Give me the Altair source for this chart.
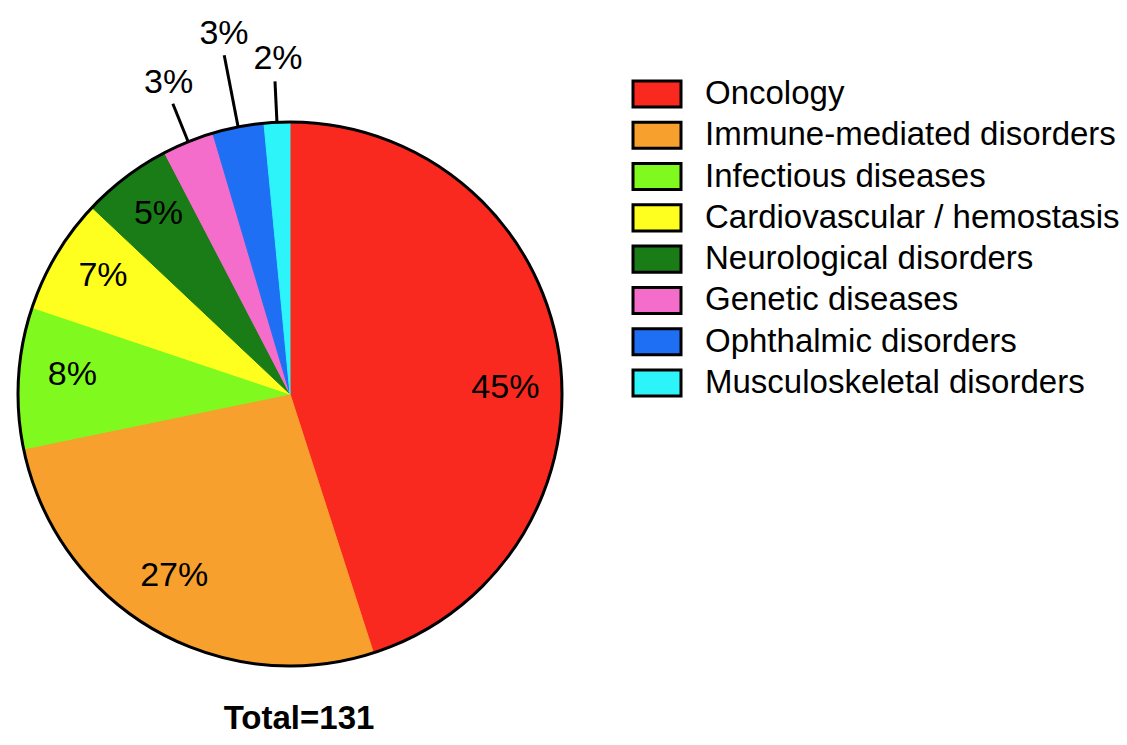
import math
import altair as alt
import pandas as pd

categories = [
    "Oncology",
    "Immune-mediated disorders",
    "Infectious diseases",
    "Cardiovascular / hemostasis",
    "Neurological disorders",
    "Genetic diseases",
    "Ophthalmic disorders",
    "Musculoskeletal disorders",
]
counts = [59, 35, 11, 9, 7, 4, 4, 2]
colors = ["#F9291F", "#F7A02D", "#80F91E", "#FFFF1F", "#197C17", "#F56DCB", "#1F6FF4", "#2CF4F8"]

df = pd.DataFrame({"category": categories, "count": counts, "idx": list(range(len(categories)))})

CX, CY, R = 282, 386, 272
FONT = "Liberation Sans"
BOX = "M-1.6,-0.87L1.6,-0.87L1.6,0.87L-1.6,0.87Z"

base = alt.Chart(df)

color_scale = alt.Scale(domain=categories, range=colors)

pie = base.mark_arc(radius=R, strokeWidth=1).encode(
    theta=alt.Theta("count:Q", stack=True),
    color=alt.Color("category:N", scale=color_scale, legend=None),
    stroke=alt.Stroke("category:N", scale=color_scale, legend=None),
    order=alt.Order("idx:Q"),
    x=alt.value(CX),
    y=alt.value(CY),
)

border = alt.Chart(pd.DataFrame({"v": [1]})).mark_arc(
    radius=R, theta=0, theta2=2 * math.pi, filled=False, stroke="black", strokeWidth=3
).encode(x=alt.value(CX), y=alt.value(CY))

geo = base.transform_window(
    cum="sum(count)", sort=[alt.SortField("idx")], frame=[None, 0]
).transform_joinaggregate(
    total="sum(count)"
).transform_calculate(
    mid="2*PI*(datum.cum - datum.count/2)/datum.total",
    label="format(datum.count/datum.total, '.0%')",
)

inner = geo.transform_filter("datum.idx <= 4").transform_calculate(
    rr="218",
).transform_calculate(
    lx=f"{CX} + datum.rr*sin(datum.mid) + (datum.idx == 1 ? -6 : 0)",
    ly=f"{CY} - datum.rr*cos(datum.mid) + (datum.idx == 0 ? 28 : -6)",
).mark_text(font=FONT, fontSize=34, color="black", align="center", baseline="middle").encode(
    x=alt.X("lx:Q", scale=None),
    y=alt.Y("ly:Q", scale=None),
    text="label:N",
)

outer_base = geo.transform_filter("datum.idx >= 5").transform_calculate(
    r2="datum.idx == 6 ? 345 : 313",
).transform_calculate(
    x1=f"{CX} + {R}*sin(datum.mid)",
    y1=f"{CY} - {R}*cos(datum.mid)",
    x2=f"{CX} + datum.r2*sin(datum.mid)",
    y2=f"{CY} - datum.r2*cos(datum.mid)",
    tx=f"{CX} + (datum.r2+22)*sin(datum.mid) + 4",
    ty=f"{CY} - (datum.r2+22)*cos(datum.mid)",
)

leaders = outer_base.mark_rule(color="black", strokeWidth=3).encode(
    x=alt.X("x1:Q", scale=None),
    y=alt.Y("y1:Q", scale=None),
    x2="x2:Q",
    y2="y2:Q",
)

outer_text = outer_base.mark_text(font=FONT, fontSize=34, color="black", align="center", baseline="middle").encode(
    x=alt.X("tx:Q", scale=None),
    y=alt.Y("ty:Q", scale=None),
    text="label:N",
)

# Legend drawn from the same category list through a point scale
legend_y = alt.Y(
    "category:N",
    scale=alt.Scale(domain=categories, range=[86, 375], padding=0),
    axis=None,
    sort=categories,
)

legend_boxes = base.mark_point(
    shape=BOX, size=900, filled=True, stroke="black", strokeWidth=3, opacity=1
).encode(
    x=alt.value(649),
    y=legend_y,
    color=alt.Color("category:N", scale=color_scale, legend=None),
)

legend_labels = base.mark_text(
    font=FONT, fontSize=33, color="black", align="left", baseline="middle"
).encode(
    x=alt.value(697),
    y=legend_y,
    text="category:N",
)

total = base.transform_aggregate(total="sum(count)").transform_calculate(
    t="'Total=' + datum.total"
).mark_text(font=FONT, fontSize=33, fontWeight="bold", color="black", align="center", baseline="alphabetic").encode(
    x=alt.value(291),
    y=alt.value(721),
    text="t:N",
)

chart = alt.layer(
    pie, border, leaders, inner, outer_text, legend_boxes, legend_labels, total
).resolve_scale(
    y="independent", x="independent"
).properties(
    width=1111,
    height=729,
    padding=0,
    autosize=alt.AutoSizeParams(type="none"),
).configure_view(stroke=None)

chart.save("out.html", embed_options={"renderer": "svg", "actions": False})
